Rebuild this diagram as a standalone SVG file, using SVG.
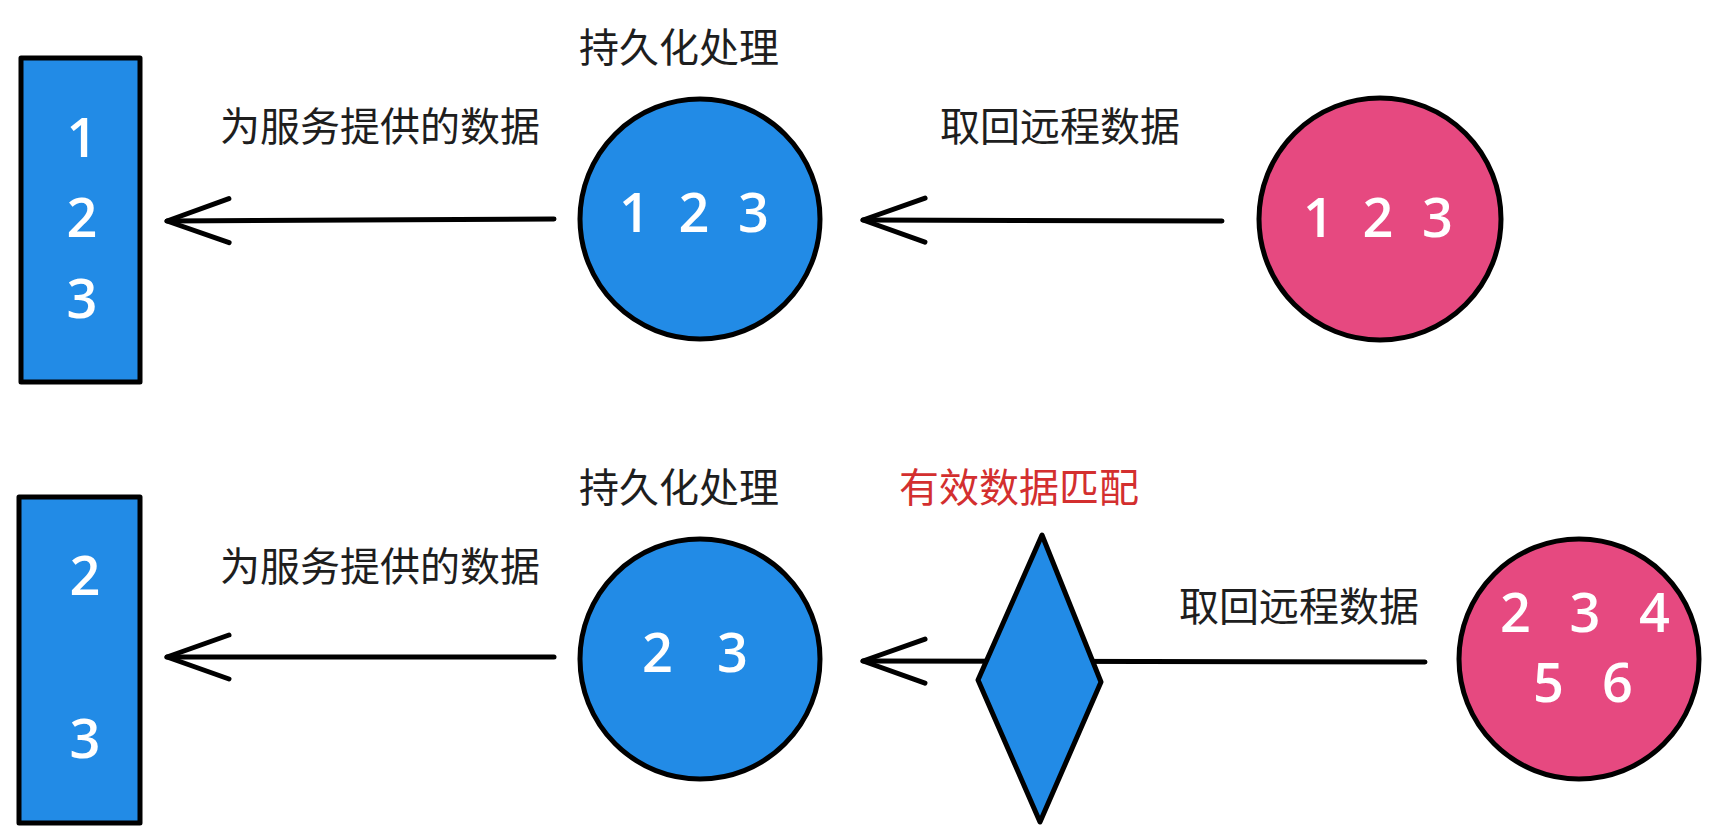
<svg xmlns="http://www.w3.org/2000/svg" width="1720" height="840" viewBox="0 0 1720 840">
<style>
.blue{fill:#228be6;stroke:#000;stroke-width:5;stroke-linejoin:round}
.pink{fill:#e64980;stroke:#000;stroke-width:5}
.lbl{font-family:"Noto Sans CJK SC","Noto Sans",sans-serif;font-size:40px;fill:#1e1e1e}
.red{fill:#d32f2f}
.num{font-family:"Open Sans","Liberation Sans",sans-serif;font-size:54px;font-weight:600;fill:#fff;text-anchor:middle}
.conn{fill:none;stroke:#000;stroke-width:5;stroke-linecap:round}
</style>
<defs>
<marker id="arr" markerUnits="userSpaceOnUse" orient="auto" overflow="visible" markerWidth="1" markerHeight="1" refX="0" refY="0">
<path d="M-62,-22 L0,0 L-62,22" fill="none" stroke="#000" stroke-width="5" stroke-linecap="round" stroke-linejoin="round"/>
</marker>
</defs>
<rect width="1720" height="840" fill="#fff"/>
<g id="connectors">
<path class="conn" d="M554,219 L167,221" marker-end="url(#arr)"/>
<path class="conn" d="M1222,221 L863,220" marker-end="url(#arr)"/>
<path class="conn" d="M554,657 L167,657" marker-end="url(#arr)"/>
<path class="conn" d="M1425,662 L863,661" marker-end="url(#arr)"/>
</g>
<g id="store-top">
<rect class="blue" x="21" y="58" width="119" height="324"/>
<text class="num" x="82" y="157">1</text>
<text class="num" x="82" y="237">2</text>
<text class="num" x="82" y="318">3</text>
</g>
<g id="label-serve-top"><text class="lbl" x="220" y="141">为服务提供的数据</text></g>
<g id="persist-top">
<text class="lbl" x="579" y="62">持久化处理</text>
<circle class="blue" cx="700" cy="219" r="120"/>
<text class="num" x="694" y="232" textLength="150" lengthAdjust="spacing">1 2 3</text>
</g>
<g id="label-fetch-top"><text class="lbl" x="940" y="141">取回远程数据</text></g>
<g id="remote-top">
<circle class="pink" cx="1380" cy="219" r="121"/>
<text class="num" x="1378" y="237" textLength="150" lengthAdjust="spacing">1 2 3</text>
</g>
<g id="store-bottom">
<rect class="blue" x="19" y="497" width="121" height="326"/>
<text class="num" x="85" y="595">2</text>
<text class="num" x="85" y="758">3</text>
</g>
<g id="label-serve-bottom"><text class="lbl" x="220" y="581">为服务提供的数据</text></g>
<g id="persist-bottom">
<text class="lbl" x="579" y="502">持久化处理</text>
<circle class="blue" cx="700" cy="659" r="120"/>
<text class="num" x="695" y="672" textLength="106" lengthAdjust="spacing">2 3</text>
</g>
<g id="match">
<text class="lbl red" x="899" y="502">有效数据匹配</text>
<polygon class="blue" points="1042,535 1101,682 1040,822 978,680"/>
</g>
<g id="label-fetch-bottom"><text class="lbl" x="1179" y="621">取回远程数据</text></g>
<g id="remote-bottom">
<circle class="pink" cx="1579" cy="659" r="120"/>
<text class="num" x="1585" y="632" textLength="170" lengthAdjust="spacing">2 3 4</text>
<text class="num" x="1583" y="702" textLength="100" lengthAdjust="spacing">5 6</text>
</g>
</svg>
